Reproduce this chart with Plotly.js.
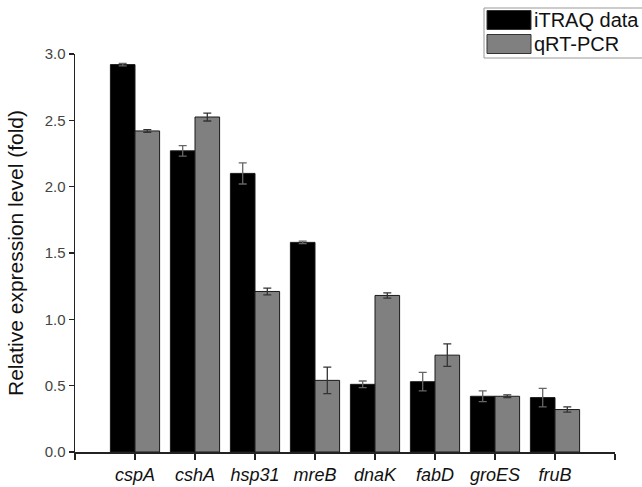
<!DOCTYPE html>
<html>
<head>
<meta charset="utf-8">
<script src="https://cdn.plot.ly/plotly-3.0.1.min.js"></script>
<style>html,body{margin:0;padding:0;background:#fff;}#chart{width:642px;height:487px;}</style>
</head>
<body>
<div id="chart"></div>
<script>
// ---- data ----
var genes = ['cspA', 'cshA', 'hsp31', 'mreB', 'dnaK', 'fabD', 'groES', 'fruB'];
var itraqValues = [2.92, 2.27, 2.10, 1.58, 0.51, 0.53, 0.42, 0.41];
var itraqErrors = [0.01, 0.04, 0.08, 0.01, 0.025, 0.07, 0.04, 0.07];
var qpcrValues = [2.42, 2.525, 1.21, 0.54, 1.18, 0.73, 0.42, 0.32];
var qpcrErrors = [0.01, 0.03, 0.025, 0.10, 0.02, 0.085, 0.01, 0.02];
var seriesNames = ['iTRAQ data', 'qRT-PCR'];
var yTickValues = [0, 0.5, 1.0, 1.5, 2.0, 2.5, 3.0];
var yTickLabels = ['0.0', '0.5', '1.0', '1.5', '2.0', '2.5', '3.0'];

var FONT = 'Arial, "Liberation Sans", sans-serif';
var idx = genes.map(function (g, i) { return i; });

var traces = [
  {
    type: 'bar', name: seriesNames[0], x: idx, y: itraqValues,
    marker: {color: '#000000', line: {color: '#1a1a1a', width: 1}},
    error_y: {type: 'data', array: itraqErrors, visible: true, color: '#666666', thickness: 1.3, width: 4},
    showlegend: false
  },
  {
    type: 'bar', name: seriesNames[1], x: idx, y: qpcrValues,
    marker: {color: '#808080', line: {color: '#1a1a1a', width: 1}},
    error_y: {type: 'data', array: qpcrErrors, visible: true, color: '#333333', thickness: 1.3, width: 4},
    showlegend: false
  }
];

var xTickVals = [-1].concat(idx).concat([genes.length]);
var xTickText = [''].concat(genes).concat(['']);

// manual legend (large swatches, as in the original)
var legendColors = ['#000000', '#808080'];
var shapes = [{
  type: 'rect', xref: 'paper', yref: 'paper',
  x0: (484 - 75) / 540, x1: (660 - 75) / 540,
  y0: (452 - 58) / 398, y1: (452 - 8) / 398,
  line: {color: '#999999', width: 1}, fillcolor: '#ffffff'
}];
var annotations = [];
var rowCenters = [20, 44];
seriesNames.forEach(function (name, i) {
  var cy = rowCenters[i];
  shapes.push({
    type: 'rect', xref: 'paper', yref: 'paper',
    x0: (487 - 75) / 540, x1: (531 - 75) / 540,
    y0: (452 - (cy + 9.5)) / 398, y1: (452 - (cy - 9.5)) / 398,
    line: {color: '#333333', width: 1}, fillcolor: legendColors[i]
  });
  annotations.push({
    xref: 'paper', yref: 'paper', x: (532 - 75) / 540, y: (452 - cy) / 398,
    xanchor: 'left', yanchor: 'middle', showarrow: false, text: name,
    font: {family: FONT, size: 20, color: '#111111'}
  });
});

var layout = {
  width: 642, height: 487,
  margin: {l: 75, r: 27, t: 54, b: 35, pad: 0},
  paper_bgcolor: '#ffffff', plot_bgcolor: '#ffffff',
  barmode: 'group', bargap: 0.18, bargroupgap: 0,
  showlegend: false,
  xaxis: {
    range: [-1, genes.length], tickmode: 'array', tickvals: xTickVals, ticktext: xTickText,
    showline: true, linecolor: '#222222', linewidth: 1.5,
    ticks: 'outside', ticklen: 6, tickwidth: 1.5, tickcolor: '#222222',
    showgrid: false, zeroline: false,
    tickfont: {family: FONT, size: 18, color: '#111111', style: 'italic'}
  },
  yaxis: {
    range: [0, 3.0], tickmode: 'array', tickvals: yTickValues, ticktext: yTickLabels,
    showline: true, linecolor: '#222222', linewidth: 1.5,
    ticks: 'outside', ticklen: 5, tickwidth: 1.5, tickcolor: '#222222',
    showgrid: false, zeroline: false,
    tickfont: {family: FONT, size: 15, color: '#444444'},
    title: {text: 'Relative expression level (fold)', font: {family: FONT, size: 21, color: '#111111'}, standoff: 15}
  },
  shapes: shapes,
  annotations: annotations
};

Plotly.newPlot('chart', traces, layout, {staticPlot: true, displayModeBar: false});
</script>
</body>
</html>
